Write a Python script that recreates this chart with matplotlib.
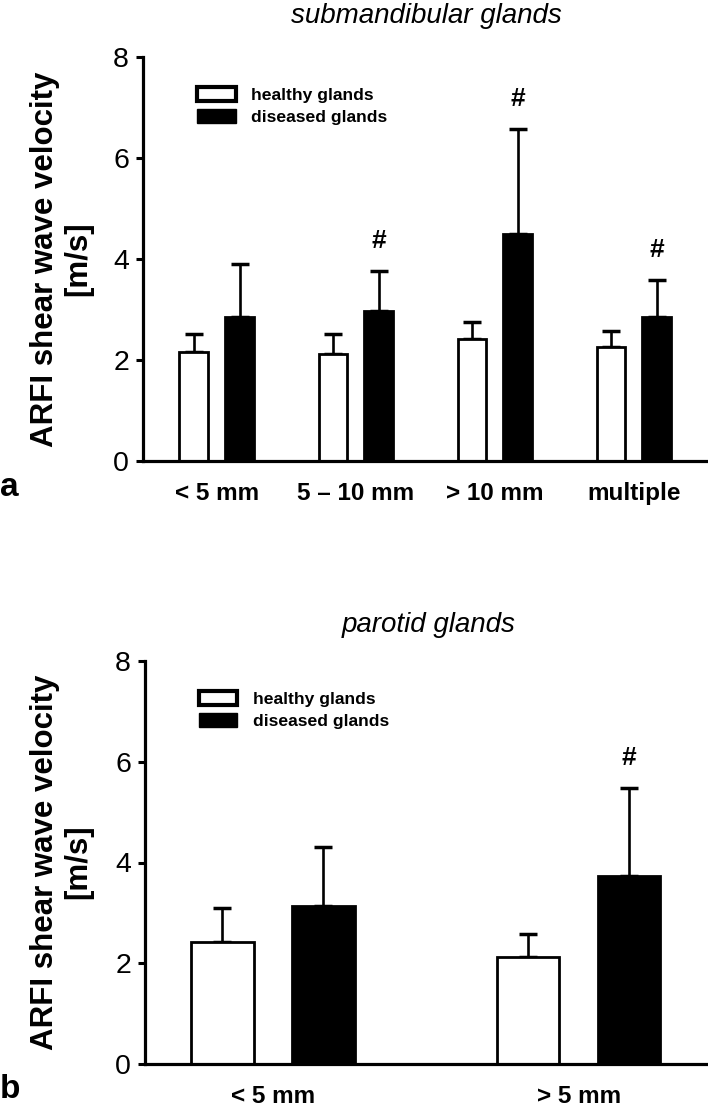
import matplotlib
matplotlib.use("Agg")
import matplotlib.pyplot as plt
from matplotlib.patches import Patch
import numpy as np

# ---------------- data ----------------
sub_categories = ["< 5 mm", "5 \u2013 10 mm", "> 10 mm", "multiple"]
sub_healthy = [2.16, 2.11, 2.41, 2.25]
sub_healthy_sd = [0.36, 0.41, 0.34, 0.33]
sub_diseased = [2.85, 2.97, 4.50, 2.85]
sub_diseased_sd = [1.05, 0.79, 2.07, 0.73]
sub_sig = [False, True, True, True]

par_categories = ["< 5 mm", "> 5 mm"]
par_healthy = [2.43, 2.12]
par_healthy_sd = [0.66, 0.47]
par_diseased = [3.13, 3.73]
par_diseased_sd = [1.17, 1.74]
par_sig = [False, True]

yticks = [0, 2, 4, 6, 8]
legend_labels = ["healthy glands", "diseased glands"]

# ---------------- style ----------------
SANS = ["Liberation Sans", "DejaVu Sans"]
NARROW = ["Liberation Sans Narrow", "Liberation Sans", "DejaVu Sans"]
plt.rcParams["font.family"] = SANS

W, H = 708, 1106
fig = plt.figure(figsize=(W / 100, H / 100), dpi=100)

BAR_W = 0.205
OFF = 0.165
LW_SPINE = 2.3
LW_BAR = 2.0
LW_ERR = 1.9


def panel(rect, cats, hv, hsd, dv, dsd, sig, xlim, title, title_xy, letter, letter_xy, ylab_xy):
    ax = fig.add_axes(rect)
    x = np.arange(len(cats))
    ax.bar(x - OFF, hv, width=BAR_W, color="white", edgecolor="black", linewidth=LW_BAR, zorder=2)
    ax.bar(x + OFF, dv, width=BAR_W, color="black", edgecolor="black", linewidth=LW_BAR, zorder=2)
    ax.errorbar(x - OFF, hv, yerr=[np.zeros(len(hv)), hsd], fmt="none", ecolor="black",
                elinewidth=LW_ERR, capsize=6.5, capthick=2.5, zorder=1)
    ax.errorbar(x + OFF, dv, yerr=[np.zeros(len(dv)), dsd], fmt="none", ecolor="black",
                elinewidth=LW_ERR, capsize=6.5, capthick=2.5, zorder=1)
    for xi, v, s, flag in zip(x, dv, dsd, sig):
        if flag:
            ax.text(xi + OFF, v + s + 0.6, "#", ha="center", va="center",
                    fontsize=19, fontweight="bold")
    ax.set_ylim(0, 8)
    ax.set_xlim(*xlim)
    ax.set_yticks(yticks)
    ax.set_yticklabels([str(t) for t in yticks], fontsize=20.5, family=NARROW)
    ax.set_xticks(x)
    ax.set_xticklabels(cats, fontsize=17.5, fontweight="bold")
    ax.tick_params(axis="x", length=0, pad=15)
    ax.tick_params(axis="y", direction="out", length=5, width=2.2, pad=5)
    for sp in ["top", "right"]:
        ax.spines[sp].set_visible(False)
    for sp in ["left", "bottom"]:
        ax.spines[sp].set_linewidth(LW_SPINE)
    handles = [Patch(facecolor="white", edgecolor="black", linewidth=3),
               Patch(facecolor="black", edgecolor="black", linewidth=1)]
    ax.legend(handles, legend_labels, loc="upper left", bbox_to_anchor=(0.096, 0.925),
              frameon=False, prop={"size": 12.6, "weight": "bold"}, handlelength=2.2,
              handleheight=0.8, handletextpad=0.9, labelspacing=0.35, borderpad=0,
              borderaxespad=0)
    fig.text(title_xy[0] / W, 1 - title_xy[1] / H, title, ha="center", va="center",
             fontsize=20, style="italic")
    fig.text(letter_xy[0] / W, 1 - letter_xy[1] / H, letter, ha="left", va="center",
             fontsize=24, fontweight="bold")
    fig.text(ylab_xy[0] / W, 1 - ylab_xy[1] / H, "ARFI shear wave velocity\n[m/s]",
             rotation=90, ha="center", va="center", multialignment="center",
             fontsize=22.5, fontweight="bold", linespacing=1.15)
    return ax


# top panel: axis x 143..706 px, y 57..461 px
panel([143 / W, 1 - 461 / H, (706 - 143) / W, (461 - 57) / H],
      sub_categories, sub_healthy, sub_healthy_sd, sub_diseased, sub_diseased_sd, sub_sig,
      (-0.53, 3.52), "submandibular glands", (426, 16), "a", (0, 488), (62, 259))

# bottom panel: axis x 145..707 px, y 661..1064 px
panel([145 / W, 1 - 1064 / H, (707 - 145) / W, (1064 - 661) / H],
      par_categories, par_healthy, par_healthy_sd, par_diseased, par_diseased_sd, par_sig,
      (-0.418, 1.42), "parotid glands", (429, 625), "b", (0, 1090), (62, 862))

fig.savefig("out.png", dpi=100)
